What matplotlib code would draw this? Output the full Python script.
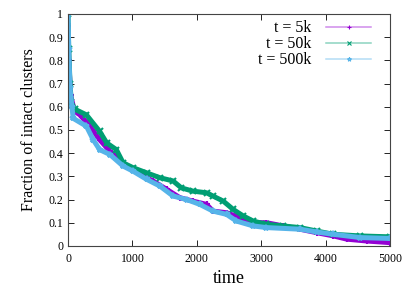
import matplotlib
matplotlib.use("Agg")
import matplotlib.pyplot as plt
from matplotlib.lines import Line2D
from matplotlib.colors import to_rgb

# values
t_5k = [0, 10, 40, 100, 180, 340, 490, 650, 855, 1115, 1320, 1530, 1735, 1940,
        2150, 2250, 2460, 2670, 2875, 3080, 3340, 3600, 3860, 4120, 4330, 4640, 5000]
f_5k = [0.95, 0.80, 0.65, 0.58, 0.566, 0.516, 0.458, 0.408, 0.358, 0.308, 0.28, 0.244,
        0.208, 0.193, 0.179, 0.15, 0.143, 0.122, 0.10, 0.10, 0.086, 0.072, 0.057,
        0.043, 0.029, 0.021, 0.014]

t_50k = [0, 10, 30, 50, 100, 285, 490, 600, 750, 855, 1010, 1220, 1425, 1630, 1760,
         1940, 2150, 2250, 2410, 2565, 2720, 2875, 3080, 3340, 3600, 3860, 4120, 4530, 5000]
f_50k = [1.0, 0.85, 0.70, 0.62, 0.59, 0.565, 0.494, 0.444, 0.415, 0.358, 0.337, 0.315,
         0.294, 0.28, 0.25, 0.236, 0.229, 0.215, 0.193, 0.157, 0.129, 0.107, 0.093,
         0.086, 0.079, 0.064, 0.05, 0.043, 0.039]

t_500k = [0, 10, 30, 60, 80, 285, 390, 490, 650, 855, 1010, 1220, 1425, 1630, 1840,
          2045, 2250, 2460, 2615, 2875, 3080, 3600, 3860, 4120, 4530, 5000]
f_500k = [1.0, 0.85, 0.68, 0.60, 0.55, 0.516, 0.458, 0.415, 0.394, 0.344, 0.322, 0.287,
          0.258, 0.215, 0.20, 0.179, 0.15, 0.136, 0.107, 0.086, 0.079, 0.072, 0.06,
          0.05, 0.036, 0.032]

labels = ["t = 5k", "t = 50k", "t = 500k"]
colors = ["#9400D3", "#009E73", "#56B4E9"]
markers = ["+", "x", "*"]

plt.rcParams['font.family'] = ['Liberation Serif', 'DejaVu Serif']

fig = plt.figure(figsize=(4.15, 2.91), dpi=100)
ax = fig.add_axes([0.164, 0.155, 0.776, 0.797])

series = [(t_5k, f_5k), (t_50k, f_50k), (t_500k, f_500k)]
handles = []
for (t, f), lab, c, m in zip(series, labels, colors, markers):
    ax.plot(t, f, color=c, lw=3.6, marker=m, ms=4, mew=1.5)
    light = tuple(0.45 * v + 0.55 for v in to_rgb(c))
    handles.append(Line2D([], [], color=light, lw=1.1, marker=m, ms=3,
                          mec=c, mew=0.8))

ax.set_xlim(0, 5000)
ax.set_ylim(0, 1)
ax.set_xticks([0, 1000, 2000, 3000, 4000, 5000])
ax.set_yticks([0, 0.1, 0.2, 0.3, 0.4, 0.5, 0.6, 0.7, 0.8, 0.9, 1])
ax.set_yticklabels(["0", "0.1", "0.2", "0.3", "0.4", "0.5", "0.6", "0.7", "0.8", "0.9", "1"])
ax.tick_params(direction="in", top=True, right=True, labelsize=8.5, length=4, width=0.6)
ax.tick_params(axis="x", pad=5)
for s in ax.spines.values():
    s.set_linewidth(0.8)
    s.set_color("#444444")

ax.set_xlabel("time", fontsize=13, labelpad=4)
ax.set_ylabel("Fraction of intact clusters", fontsize=11.5, labelpad=8)

ax.legend(handles, labels, loc="upper right", bbox_to_anchor=(0.985, 1.035),
          frameon=False, markerfirst=False, fontsize=11.5, handlelength=2.8,
          labelspacing=0.0, handletextpad=0.9)

fig.savefig("out.png", dpi=100)
